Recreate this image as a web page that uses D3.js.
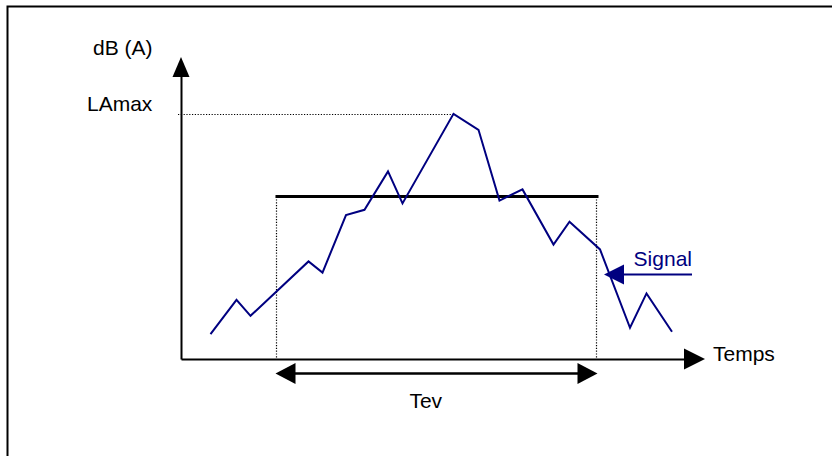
<!DOCTYPE html>
<html>
<head>
<meta charset="utf-8">
<script src="https://cdn.jsdelivr.net/npm/d3@7"></script>
<style>
  html, body { margin: 0; padding: 0; background: #fff; }
  svg { display: block; font-family: Arial, "Liberation Sans", sans-serif; }
</style>
</head>
<body>
<script>
// ---- data ----
const time  = [5.9, 11.1, 13.9, 25.5, 28.3, 33.0, 36.7, 41.4, 44.3, 54.5, 59.5, 63.7, 68.3, 74.5, 77.7, 83.8, 89.8, 93.1, 98.2];
const level = [36.2, 44.8, 40.8, 54.4, 51.6, 66.0, 67.3, 76.9, 68.9, 91.3, 87.3, 69.6, 72.4, 58.6, 64.3, 57.4, 37.8, 46.4, 36.8];
const tevStart = 18.9, tevEnd = 83.0;   // event duration bounds (time)
const leq = 70.6;                        // level of the horizontal bar
const laMax = 91.3;                      // maximum level
const xAxisEnd = 104.8, yAxisEnd = 105.5;
const signalArrow = { tip: 84.6, tail: 102.2, level: 51.1 };
const labels = { y: "dB (A)", x: "Temps", max: "LAmax", tev: "Tev", signal: "Signal" };

const W = 832, H = 456;
const navy = "#000080";
const x = d3.scaleLinear().domain([0, 100]).range([181, 681]);
const y = d3.scaleLinear().domain([30, 95]).range([359, 99]);

const svg = d3.select("body").append("svg").attr("width", W).attr("height", H);

// frame
svg.append("path").attr("d", `M7.5,${H}V6.5H${W}`).attr("fill", "none")
   .attr("stroke", "#000").attr("stroke-width", 2);

// dotted guides
const dotted = svg.append("g").attr("stroke", "#000").attr("stroke-width", 1.2)
   .attr("stroke-dasharray", "1.2,1.6").attr("fill", "none");
const peakI = level.indexOf(d3.max(level));
dotted.append("line").attr("x1", x(0) - 3).attr("x2", x(time[peakI]))
   .attr("y1", Math.round(y(laMax)) + 0.5).attr("y2", Math.round(y(laMax)) + 0.5);
[tevStart, tevEnd].forEach(t => {
  dotted.append("line").attr("x1", Math.round(x(t)) + 0.5).attr("x2", Math.round(x(t)) + 0.5)
     .attr("y1", y(leq)).attr("y2", y(30));
});

// axes (no ticks) with arrowheads
const xAxisScale = d3.scaleLinear().domain([0, xAxisEnd]).range([x(0), x(xAxisEnd) - 20]);
const yAxisScale = d3.scaleLinear().domain([30, yAxisEnd]).range([y(30), y(yAxisEnd) + 19]);
const gx = svg.append("g").attr("transform", `translate(0,${y(30)})`)
   .call(d3.axisBottom(xAxisScale).tickValues([]).tickSizeOuter(0));
const gy = svg.append("g").attr("transform", `translate(${x(0)},0)`)
   .call(d3.axisLeft(yAxisScale).tickValues([]).tickSizeOuter(0));
[gx, gy].forEach(g => g.select(".domain").attr("stroke", "#000").attr("stroke-width", 2));

svg.append("path").attr("fill", "#000")
   .attr("d", `M${x(xAxisEnd)},${y(30)}L${x(xAxisEnd) - 21},${y(30) - 10.5}L${x(xAxisEnd) - 21},${y(30) + 10.5}Z`);
svg.append("path").attr("fill", "#000")
   .attr("d", `M${x(0)},${y(yAxisEnd)}L${x(0) - 8.5},${y(yAxisEnd) + 20}L${x(0) + 8.5},${y(yAxisEnd) + 20}Z`);

// Leq bar
svg.append("line").attr("x1", x(tevStart)).attr("x2", x(tevEnd) + 2.5)
   .attr("y1", y(leq)).attr("y2", y(leq)).attr("stroke", "#000").attr("stroke-width", 3);

// signal line
const pts = time.map((t, i) => [t, level[i]]);
svg.append("path").datum(pts)
   .attr("d", d3.line().x(d => x(d[0])).y(d => y(d[1])))
   .attr("fill", "none").attr("stroke", navy).attr("stroke-width", 2)
   .attr("stroke-linejoin", "miter");

// Tev double arrow
const tevY = y(30) + 14.5;
svg.append("line").attr("x1", x(tevStart) + 18).attr("x2", x(tevEnd) - 18)
   .attr("y1", tevY).attr("y2", tevY).attr("stroke", "#000").attr("stroke-width", 2.5);
svg.append("path").attr("fill", "#000")
   .attr("d", `M${x(tevStart)},${tevY}L${x(tevStart) + 20},${tevY - 10.5}L${x(tevStart) + 20},${tevY + 10.5}Z`);
svg.append("path").attr("fill", "#000")
   .attr("d", `M${x(tevEnd) + 1.5},${tevY}L${x(tevEnd) - 18.5},${tevY - 10.5}L${x(tevEnd) - 18.5},${tevY + 10.5}Z`);

// Signal arrow
const sy = y(signalArrow.level);
svg.append("line").attr("x1", x(signalArrow.tip) + 18).attr("x2", x(signalArrow.tail))
   .attr("y1", sy).attr("y2", sy).attr("stroke", navy).attr("stroke-width", 2);
svg.append("path").attr("fill", navy)
   .attr("d", `M${x(signalArrow.tip)},${sy}L${x(signalArrow.tip) + 20},${sy - 10}L${x(signalArrow.tip) + 20},${sy + 10}Z`);

// text
const fs = "21px";
const txt = (s, px, py, fill, anchor) => svg.append("text").text(s)
   .attr("x", px).attr("y", py).attr("fill", fill || "#000")
   .attr("text-anchor", anchor || "start").style("font-size", fs);
txt(labels.y, x(0) - 88, y(yAxisEnd) - 2);
txt(labels.max, x(0) - 94, y(laMax) - 3);
txt(labels.x, x(xAxisEnd) + 8, y(30) + 2);
txt(labels.tev, (x(tevStart) + x(tevEnd)) / 2 - 10, tevY + 34, "#000", "middle");
txt(labels.signal, x(signalArrow.tail), sy - 9, navy, "end");
</script>
</body>
</html>
